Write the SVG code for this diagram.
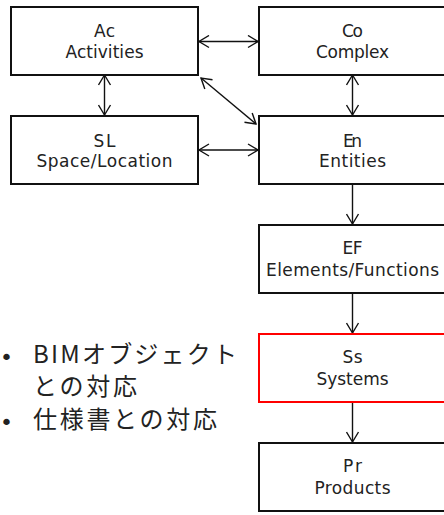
<svg xmlns="http://www.w3.org/2000/svg" width="444" height="515" viewBox="0 0 444 515">
<style>
.box{fill:#fff;stroke:#111;stroke-width:2}
.red{fill:#fff;stroke:#f00;stroke-width:2}
.lbl{font-family:"DejaVu Sans","Noto Sans CJK JP",sans-serif;font-size:17px;fill:#222;text-anchor:middle}
.con{stroke:#111;stroke-width:1.4;fill:none;marker-end:url(#ah)}
.dbl{marker-start:url(#ah)}
.jp{font-family:"Noto Sans CJK JP","Noto Sans",sans-serif;font-size:24px;fill:#222}
.bul{font-family:"DejaVu Sans",sans-serif;font-size:22px;fill:#222}
</style>
<defs>
<marker id="ah" markerWidth="14" markerHeight="14" viewBox="0 0 14 14" refX="12" refY="7" orient="auto-start-reverse" markerUnits="userSpaceOnUse">
<path d="M2,1 L12,7 L2,13" fill="none" stroke="#111" stroke-width="1.4"/>
</marker>
</defs>
<g id="connectors">
<line class="con dbl" x1="199" y1="41.5" x2="258" y2="41.5"/>
<line class="con dbl" x1="104.5" y1="75" x2="104.5" y2="115"/>
<line class="con dbl" x1="201" y1="78" x2="256" y2="124"/>
<line class="con dbl" x1="352.5" y1="75" x2="352.5" y2="115"/>
<line class="con dbl" x1="199" y1="150" x2="258" y2="150"/>
<line class="con" x1="352.5" y1="185" x2="352.5" y2="224"/>
<line class="con" x1="352.5" y1="294" x2="352.5" y2="333"/>
<line class="con" x1="352.5" y1="403" x2="352.5" y2="442"/>
</g>
<g id="Ac"><rect class="box" x="11" y="7" width="187" height="68"/>
<text class="lbl" x="104.5" y="37" textLength="21">Ac</text><text class="lbl" x="104.5" y="58" textLength="78">Activities</text></g>
<g id="Co"><rect class="box" x="259" y="7" width="187" height="68"/>
<text class="lbl" x="352.5" y="37" textLength="21">Co</text><text class="lbl" x="352.5" y="58" textLength="73">Complex</text></g>
<g id="SL"><rect class="box" x="11" y="116" width="187" height="68"/>
<text class="lbl" x="104.5" y="146.5" textLength="22">SL</text><text class="lbl" x="104.5" y="167" textLength="136">Space/Location</text></g>
<g id="En"><rect class="box" x="259" y="116" width="187" height="68"/>
<text class="lbl" x="352.5" y="146.5" textLength="19">En</text><text class="lbl" x="352.5" y="167" textLength="67">Entities</text></g>
<g id="EF"><rect class="box" x="259" y="225" width="187" height="68"/>
<text class="lbl" x="352.5" y="253.5" textLength="20">EF</text><text class="lbl" x="352.5" y="276" textLength="173">Elements/Functions</text></g>
<g id="Ss"><rect class="red" x="259" y="334" width="187" height="68"/>
<text class="lbl" x="352.5" y="362.5" textLength="20">Ss</text><text class="lbl" x="352.5" y="384.5" textLength="72">Systems</text></g>
<g id="Pr"><rect class="box" x="259" y="443" width="187" height="68"/>
<text class="lbl" x="352.5" y="471.5" textLength="19">Pr</text><text class="lbl" x="352.5" y="493.5" textLength="76">Products</text></g>
<g id="notes">
<text class="bul" x="0" y="365">•</text>
<text class="jp" x="33" y="363" textLength="204">BIMオブジェクト</text>
<text class="jp" x="33" y="395" textLength="104">との対応</text>
<text class="bul" x="0" y="430">•</text>
<text class="jp" x="33" y="428" textLength="184">仕様書との対応</text>
</g>
</svg>
